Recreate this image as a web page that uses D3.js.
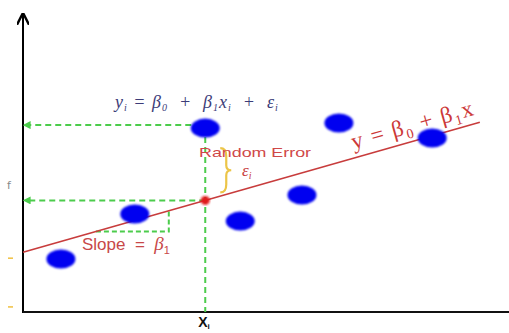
<!DOCTYPE html>
<html>
<head>
<meta charset="utf-8">
<script src="https://cdn.jsdelivr.net/npm/d3@7"></script>
<style>
  body { margin: 0; background: #fff; }
  svg { display: block; }
  text { white-space: pre; }
</style>
</head>
<body>
<script>
var w = 509
var h = 333

// observed points
var xs = [0.78, 2.30, 3.75, 4.47, 5.74, 6.50, 8.42]
var ys = [1.77, 3.28, 6.15, 3.04, 3.91, 6.32, 5.82]

// regression line y = b0 + b1 x
var b0 = 2.0
var b1 = 0.462
var lineX = [0, 9.4]

// highlighted observation
var xi = 3.75
var yi = 6.15

// slope triangle run
var slopeRun = [1.5, 3.0]

var x = d3.scaleLinear().domain([0, 10]).range([23, 509])
var y = d3.scaleLinear().domain([0, 10]).range([312, 13])

var fit = function(v) { return b0 + b1 * v }

var svg = d3.select("body").append("svg")
  .attr("width", w)
  .attr("height", h)

var defs = svg.append("defs")
defs.append("filter").attr("id", "soft")
  .append("feGaussianBlur").attr("stdDeviation", 0.8)
defs.append("marker")
  .attr("id", "garrow")
  .attr("viewBox", "0 0 10 10")
  .attr("refX", 2).attr("refY", 5)
  .attr("markerWidth", 4).attr("markerHeight", 4)
  .attr("orient", "auto-start-reverse")
  .append("path").attr("d", "M0,0 L10,5 L0,10 z").attr("fill", "#4ccc4c")
defs.append("marker")
  .attr("id", "karrow")
  .attr("viewBox", "0 0 10 10")
  .attr("refX", 9).attr("refY", 5)
  .attr("markerWidth", 6).attr("markerHeight", 6)
  .attr("orient", "auto")
  .append("path").attr("d", "M0,0 L10,5 L0,10").attr("fill", "none").attr("stroke", "#000").attr("stroke-width", 2)

// axes
svg.append("line")
  .attr("x1", x(0)).attr("y1", y(0) + 1)
  .attr("x2", x(0)).attr("y2", y(10) + 1)
  .attr("stroke", "#000").attr("stroke-width", 2)
  .attr("marker-end", "url(#karrow)")
svg.append("line")
  .attr("x1", x(0)).attr("y1", y(0))
  .attr("x2", w).attr("y2", y(0))
  .attr("stroke", "#111").attr("stroke-width", 2)

// stray marks at left edge
svg.append("text").attr("x", 7).attr("y", y(4.1)).attr("font-size", 11)
  .attr("font-family", "DejaVu Sans").attr("fill", "#888").text("f")
svg.selectAll(".ytick").data([1.8, 0.17]).enter().append("line")
  .attr("x1", 8).attr("x2", 13)
  .attr("y1", function(d) { return y(d) }).attr("y2", function(d) { return y(d) })
  .attr("stroke", "#f0c040").attr("stroke-width", 1.5)

// green dashed guides
var dash = "6,4"
svg.append("line")
  .attr("x1", x(xi) - 14).attr("y1", y(yi) - 3)
  .attr("x2", x(0) + 6).attr("y2", y(yi) - 3)
  .attr("stroke", "#4ccc4c").attr("stroke-width", 2).attr("stroke-dasharray", dash)
  .attr("marker-end", "url(#garrow)")
svg.append("line")
  .attr("x1", x(xi)).attr("y1", y(fit(xi)))
  .attr("x2", x(0) + 6).attr("y2", y(fit(xi)))
  .attr("stroke", "#4ccc4c").attr("stroke-width", 2).attr("stroke-dasharray", dash)
  .attr("marker-end", "url(#garrow)")
svg.append("line")
  .attr("x1", x(xi)).attr("y1", y(yi) + 9)
  .attr("x2", x(xi)).attr("y2", y(0))
  .attr("stroke", "#4ccc4c").attr("stroke-width", 2).attr("stroke-dasharray", dash)

// slope triangle
svg.append("path")
  .attr("d", "M" + x(slopeRun[0]) + "," + y(fit(slopeRun[0])) +
    " L" + x(slopeRun[1]) + "," + y(fit(slopeRun[0])) +
    " L" + x(slopeRun[1]) + "," + y(fit(slopeRun[1])))
  .attr("fill", "none")
  .attr("stroke", "#4ccc4c").attr("stroke-width", 2).attr("stroke-dasharray", "5,3")

// regression line
svg.append("line")
  .attr("x1", x(lineX[0])).attr("y1", y(fit(lineX[0])))
  .attr("x2", x(lineX[1])).attr("y2", y(fit(lineX[1])))
  .attr("stroke", "#c83c3c").attr("stroke-width", 1.6)

// data points
svg.selectAll(".pt").data(xs).enter().append("ellipse")
  .attr("class", "pt")
  .attr("cx", function(d) { return x(d) })
  .attr("cy", function(d, i) { return y(ys[i]) })
  .attr("rx", 14.5).attr("ry", 9.5)
  .attr("fill", "#0505f0")
  .attr("filter", "url(#soft)")

// fitted point
svg.append("circle")
  .attr("cx", x(xi)).attr("cy", y(fit(xi)))
  .attr("r", 4.5).attr("fill", "#e01a1a").attr("filter", "url(#soft)")

// error brace
var bx = x(xi) + 15, bt = y(yi) + 20, bb = y(fit(xi)) - 8, bm = (bt + bb) / 2
svg.append("path")
  .attr("d", "M" + bx + "," + bt + " Q" + (bx + 6) + "," + bt + " " + (bx + 6) + "," + (bt + 8) +
    " L" + (bx + 6) + "," + (bm - 5) + " Q" + (bx + 6) + "," + bm + " " + (bx + 11) + "," + bm +
    " Q" + (bx + 6) + "," + bm + " " + (bx + 6) + "," + (bm + 5) +
    " L" + (bx + 6) + "," + (bb - 8) + " Q" + (bx + 6) + "," + bb + " " + bx + "," + bb)
  .attr("fill", "none").attr("stroke", "#ecc548").attr("stroke-width", 2.2)

// labels
var eq = svg.append("text")
  .attr("x", 115).attr("y", 108)
  .attr("font-family", "Liberation Serif").attr("font-style", "italic")
  .attr("font-size", 18).attr("letter-spacing", 1).attr("fill", "#3c3c78")
eq.append("tspan").text("y")
eq.append("tspan").attr("font-size", 10).attr("dy", 3).text("i")
eq.append("tspan").attr("dy", -3).text(" = β")
eq.append("tspan").attr("font-size", 10).attr("dy", 3).text("0")
eq.append("tspan").attr("dy", -3).text("  +  β")
eq.append("tspan").attr("font-size", 10).attr("dy", 3).text("1")
eq.append("tspan").attr("dy", -3).text("x")
eq.append("tspan").attr("font-size", 10).attr("dy", 3).text("i")
eq.append("tspan").attr("dy", -3).text("  +  ε")
eq.append("tspan").attr("font-size", 10).attr("dy", 3).text("i")

svg.append("text")
  .attr("x", 199).attr("y", 157)
  .attr("font-family", "Liberation Sans").attr("font-size", 13)
  .attr("textLength", 112).attr("lengthAdjust", "spacingAndGlyphs")
  .attr("fill", "#d04848").text("Random Error")

var ei = svg.append("text")
  .attr("x", 242).attr("y", 176)
  .attr("font-family", "Liberation Serif").attr("font-style", "italic")
  .attr("font-size", 17).attr("fill", "#c84040")
ei.append("tspan").text("ε")
ei.append("tspan").attr("font-size", 10).attr("dy", 3).text("i")

var ang = Math.atan2(y(fit(9)) - y(fit(6.6)), x(9) - x(6.6)) * 180 / Math.PI
var lx = x(6.8), ly = y(fit(6.8)) - 9
var lineLabel = svg.append("text")
  .attr("transform", "translate(" + lx + "," + ly + ") rotate(" + ang + ")")
  .attr("font-family", "Liberation Serif").attr("font-size", 23)
  .attr("letter-spacing", 1.5)
  .attr("fill", "#cc3838")
lineLabel.append("tspan").text("y = β")
lineLabel.append("tspan").attr("font-size", 14).attr("dy", 5).text("0")
lineLabel.append("tspan").attr("dy", -5).text(" + β")
lineLabel.append("tspan").attr("font-size", 14).attr("dy", 5).text("1")
lineLabel.append("tspan").attr("dy", -5).text("x")

var sl = svg.append("text")
  .attr("x", 82).attr("y", 250)
  .attr("font-family", "Liberation Sans").attr("font-size", 17)
  .attr("fill", "#c84848")
sl.append("tspan").text("Slope  =  ")
sl.append("tspan").attr("font-family", "Liberation Serif").attr("font-style", "italic").attr("font-size", 19).text("β")
sl.append("tspan").attr("font-size", 11).attr("dy", 4).text("1")

var xl = svg.append("text")
  .attr("x", x(xi) - 7).attr("y", 327)
  .attr("font-family", "Liberation Sans").attr("font-weight", "bold").attr("font-size", 14)
  .attr("fill", "#111")
xl.append("tspan").text("X")
xl.append("tspan").attr("font-size", 8).attr("dy", 2).text("i")
</script>
</body>
</html>
